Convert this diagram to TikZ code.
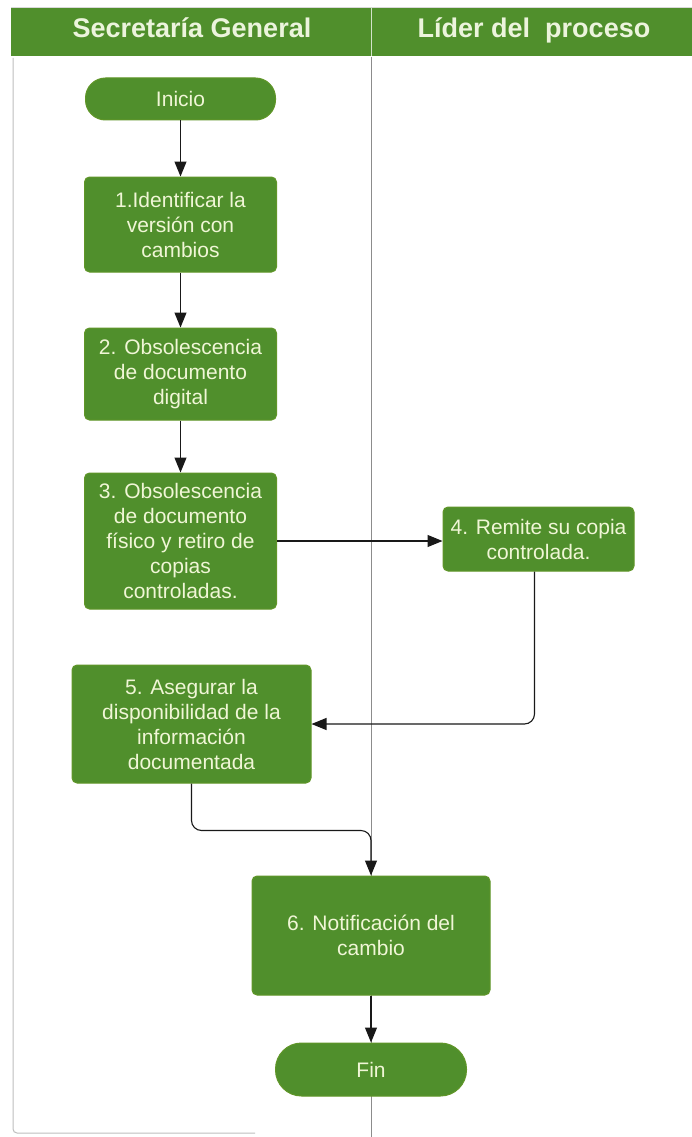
\documentclass[tikz,border=0pt]{standalone}
\usepackage{fontspec}
\setmainfont{Liberation Sans}
\usetikzlibrary{arrows.meta}
\definecolor{lanegreen}{RGB}{80,143,44}
\definecolor{boxline}{RGB}{96,150,40}
\definecolor{boxtext}{RGB}{240,246,214}
\definecolor{hdrtext}{RGB}{236,244,220}
\definecolor{borderg}{RGB}{190,190,190}
\tikzset{
  procbox/.style={draw=boxline, line width=1pt, fill=lanegreen, rounded corners=5pt,
    text=boxtext, align=center, font=\fontsize{21}{25}\selectfont, inner sep=0pt},
  pill/.style={draw=boxline, line width=1pt, fill=lanegreen, rounded corners=20pt,
    text=boxtext, align=center, font=\fontsize{21}{25}\selectfont, inner sep=0pt},
  hdr/.style={text=hdrtext, font=\bfseries\fontsize{27}{30}\selectfont, inner sep=0pt, anchor=base},
  conn/.style={draw=black!90, line width=1.1pt, rounded corners=10pt, -{Triangle[length=15pt,width=12pt]}}
}
\begin{document}
\begin{tikzpicture}[x=1pt,y=-1pt]
\fill[white] (0,0) rectangle (692,1137);
\useasboundingbox (0,0) rectangle (692,1137);
% header
\fill[lanegreen] (11,7) rectangle (692,56);
\draw[black!15, line width=1.5pt] (11,7.5) -- (692,7.5);
\draw[white!75!lanegreen, line width=0.8pt] (371,7) -- (371,56);
\node[hdr] (h1) at (192,38) {Secretaría General};
\node[hdr] (h2) at (534,38) {Líder del~ proceso};
% lane frame
\draw[borderg, line width=1pt, rounded corners=4pt] (13,58) -- (13,1133) -- (255,1133);
\draw[black!45, line width=0.8pt] (371,57) -- (371,1137);
% nodes
\node[pill, minimum width=190pt, minimum height=42pt] (inicio) at (180.5,99) {Inicio};
\node[procbox, minimum width=192pt, minimum height=95pt] (b1) at (180.5,224.5) {1.Identificar la\\versión con\\cambios};
\node[procbox, minimum width=192pt, minimum height=92pt] (b2) at (180.5,374) {2. Obsolescencia\\de documento\\digital};
\node[procbox, minimum width=192pt, minimum height=136pt] (b3) at (180.5,541) {3. Obsolescencia\\de documento\\físico y retiro de\\copias\\controladas.};
\node[procbox, minimum width=191pt, minimum height=64pt] (b4) at (538.5,539) {4. Remite su copia\\controlada.};
\node[procbox, minimum width=239pt, minimum height=118pt] (b5) at (191.5,724) {5. Asegurar la\\disponibilidad de la\\información\\documentada};
\node[procbox, minimum width=238pt, minimum height=119pt] (b6) at (371,935.5) {6. Notificación del\\cambio};
\node[pill, minimum width=191pt, minimum height=53pt, rounded corners=26pt] (fin) at (371,1069.5) {Fin};
% connectors
\draw[conn] (inicio) -- (b1);
\draw[conn] (b1) -- (b2);
\draw[conn] (b2) -- (b3);
\draw[conn] (b3.east) -- (b4.west |- b3.east);
\coordinate (b4out) at ([xshift=-4pt]b4.south);
\draw[conn] (b4out) |- (b5.east);
\draw[conn] (b5.south) -- ++(0,47) -| (b6.north);
\draw[conn] (b6) -- (fin);
\end{tikzpicture}
\end{document}
